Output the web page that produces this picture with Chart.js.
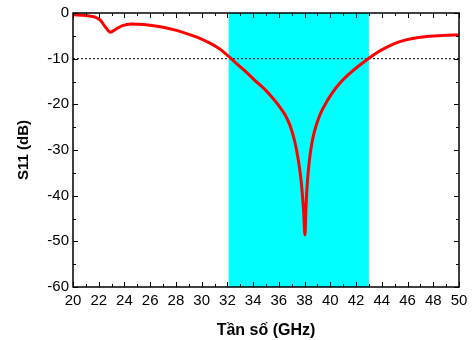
<!DOCTYPE html>
<html>
<head>
<meta charset="utf-8">
<script src="https://cdn.jsdelivr.net/npm/chart.js@4.4.0/dist/chart.umd.min.js"></script>
<style>
    html, body { margin: 0; padding: 0; background: #fff; }
    #wrap { width: 475px; height: 340px; }
</style>
</head>
<body>
<div id="wrap"><canvas id="myChart" width="475" height="340"></canvas></div>
<script>
// S11 curve
const freqGHz = [20.0, 21.0, 21.6, 22.1, 22.5, 22.9, 23.3, 23.8, 24.55, 25.5, 26.8, 28.05, 29.35, 30.0, 30.65,
    31.2, 31.7, 32.25, 32.8, 33.4, 34.2, 35.0, 35.6, 36.1, 36.5, 36.86, 37.25, 37.5, 37.69, 37.82, 37.92,
    38.03, 38.1, 38.16, 38.24, 38.34, 38.44, 38.55, 38.7, 38.88, 39.1, 39.32, 39.7, 40.1, 40.7, 41.4,
    42.2, 42.95, 43.85, 44.9, 45.6, 46.2, 47.5, 48.8, 50.0];
const s11dB = [-0.4, -0.55, -0.8, -1.5, -3.0, -4.2, -3.6, -2.8, -2.4, -2.5, -3.0, -3.8, -5.0, -5.7, -6.6,
    -7.5, -8.5, -9.9, -11.3, -12.8, -14.9, -17.0, -18.9, -20.7, -22.4, -24.6, -28.3, -32.0, -35.8, -39.5, -43.3,
    -48.6, -43.1, -39.5, -36.2, -33.1, -30.8, -28.8, -26.7, -24.8, -23.0, -21.5, -19.5, -17.7, -15.5, -13.5,
    -11.6, -10.0, -8.3, -6.8, -6.1, -5.7, -5.15, -4.9, -4.8];

// -10 dB reference line and the shaded band
const thresholdX = [20, 50];
const thresholdY = [-10, -10];
const bandStart = 32.1;
const bandEnd = 43.0;

const fontFamily = "'Liberation Sans', Arial, sans-serif";

// cyan band behind the curve
const bandPlugin = {
    id: 'band',
    beforeDatasetsDraw(chart) {
        const { ctx, chartArea, scales } = chart;
        const x1 = scales.x.getPixelForValue(bandStart);
        const x2 = scales.x.getPixelForValue(bandEnd);
        ctx.save();
        ctx.fillStyle = '#00ffff';
        ctx.fillRect(x1, chartArea.top, x2 - x1, chartArea.bottom - chartArea.top);
        ctx.restore();
    }
};

// box round the plot with inside ticks on all four sides
const framePlugin = {
    id: 'frame',
    afterDatasetsDraw(chart) {
        const { ctx, chartArea: a, scales } = chart;
        ctx.save();
        ctx.strokeStyle = '#000';
        ctx.lineWidth = 1;
        ctx.beginPath();
        for (let v = 20; v <= 50; v += 1) {
            const px = Math.round(scales.x.getPixelForValue(v)) + 0.5;
            const len = v % 2 === 0 ? 5 : 3;
            ctx.moveTo(px, a.bottom); ctx.lineTo(px, a.bottom - len);
            ctx.moveTo(px, a.top); ctx.lineTo(px, a.top + len);
        }
        for (let v = -60; v <= 0; v += 5) {
            const py = Math.round(scales.y.getPixelForValue(v)) + 0.5;
            const len = v % 10 === 0 ? 5 : 3;
            ctx.moveTo(a.left, py); ctx.lineTo(a.left + len, py);
            ctx.moveTo(a.right, py); ctx.lineTo(a.right - len, py);
        }
        ctx.stroke();
        ctx.lineWidth = 1.5;
        ctx.strokeRect(a.left, a.top, a.right - a.left, a.bottom - a.top);
        ctx.restore();
    }
};

let ctx = document.getElementById('myChart').getContext('2d');
let s11Chart = new Chart(ctx, {
    type: 'line',
    data: {
        datasets: [{
            label: 'S11',
            data: freqGHz.map((f, i) => ({ x: f, y: s11dB[i] })),
            borderColor: '#ff0000',
            borderWidth: 3,
            pointRadius: 0,
            cubicInterpolationMode: 'monotone',
            fill: false
        }, {
            label: '-10 dB',
            data: thresholdX.map((f, i) => ({ x: f, y: thresholdY[i] })),
            borderColor: '#000',
            borderWidth: 1,
            borderDash: [2, 2],
            pointRadius: 0,
            fill: false
        }]
    },
    options: {
        responsive: false,
        animation: false,
        devicePixelRatio: 1,
        layout: { padding: { left: 0, right: 16, top: 13, bottom: 0 } },
        plugins: { legend: { display: false }, tooltip: { enabled: false } },
        scales: {
            x: {
                type: 'linear',
                min: 20,
                max: 50,
                grid: { display: false, drawTicks: false },
                border: { display: false },
                ticks: {
                    stepSize: 2,
                    autoSkip: false,
                    maxRotation: 0,
                    padding: 5,
                    color: '#000',
                    font: { family: fontFamily, size: 15 }
                },
                title: {
                    display: true,
                    text: 'Tần số (GHz)',
                    color: '#000',
                    font: { family: fontFamily, size: 16, weight: 'bold' },
                    padding: { top: 3, bottom: 0 }
                },
                afterFit(scale) { scale.height = 53; }
            },
            y: {
                min: -60,
                max: 0,
                grid: { display: false, drawTicks: false },
                border: { display: false },
                ticks: {
                    stepSize: 10,
                    padding: 4,
                    color: '#000',
                    font: { family: fontFamily, size: 15 }
                },
                title: {
                    display: true,
                    text: 'S11 (dB)',
                    color: '#000',
                    font: { family: fontFamily, size: 15, weight: 'bold' },
                    padding: { top: 15, bottom: 0 }
                },
                afterFit(scale) { scale.width = 73; }
            }
        }
    },
    plugins: [bandPlugin, framePlugin]
});
</script>
</body>
</html>
